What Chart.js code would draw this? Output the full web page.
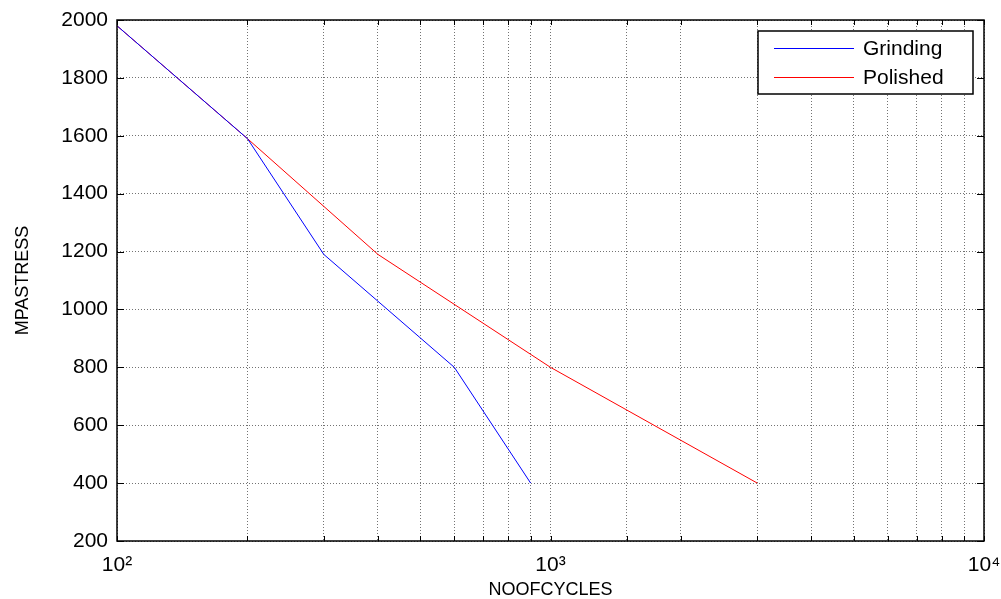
<!DOCTYPE html>
<html>
<head>
<meta charset="utf-8">
<script src="https://cdn.jsdelivr.net/npm/chart.js@4/dist/chart.umd.min.js"></script>
<style>
  html, body { margin: 0; padding: 0; background: #fff; }
  #wrap { width: 1001px; height: 599px; }
</style>
</head>
<body>
<div id="wrap"><canvas id="myChart" width="1001" height="599"></canvas></div>
<script>
// S-N curve, log x axis
const grindingCycles = [100, 200, 300, 600, 900];
const grindingStress = [1980, 1590, 1190, 800, 400];
const polishedCycles = [100, 200, 400, 1000, 3000];
const polishedStress = [1980, 1590, 1190, 800, 400];
const decadeLabels = { 100: '10²', 1000: '10³', 10000: '10⁴' };

const toPoints = (xs, ys) => xs.map((x, i) => ({ x: x, y: ys[i] }));

// box round the plot + inward ticks, matlab style
const framePlugin = {
  id: 'frame',
  afterDraw(chart) {
    const { ctx, chartArea: a, scales } = chart;
    ctx.save();
    ctx.strokeStyle = '#000';
    ctx.lineWidth = 1;
    scales.x.ticks.forEach(t => {
      const px = Math.round(scales.x.getPixelForValue(t.value)) + 0.5;
      ctx.beginPath();
      ctx.moveTo(px, a.bottom); ctx.lineTo(px, a.bottom - 5);
      ctx.moveTo(px, a.top); ctx.lineTo(px, a.top + 5);
      ctx.stroke();
    });
    scales.y.ticks.forEach(t => {
      const py = Math.round(scales.y.getPixelForValue(t.value)) + 0.5;
      ctx.beginPath();
      ctx.moveTo(a.left, py); ctx.lineTo(a.left + 7, py);
      ctx.moveTo(a.right, py); ctx.lineTo(a.right - 7, py);
      ctx.stroke();
    });
    ctx.lineWidth = 1.5;
    ctx.strokeRect(a.left, a.top, a.right - a.left, a.bottom - a.top);
    ctx.restore();
  }
};

// boxed legend in the top right corner
const boxLegend = {
  id: 'boxLegend',
  afterDraw(chart) {
    const { ctx } = chart;
    const x0 = 758, y0 = 31, w = 215, h = 63;
    ctx.save();
    ctx.fillStyle = '#fff';
    ctx.fillRect(x0, y0, w, h);
    ctx.strokeStyle = '#000';
    ctx.lineWidth = 1.5;
    ctx.strokeRect(x0, y0, w, h);
    ctx.font = '21px "Liberation Sans", Arial, sans-serif';
    ctx.textBaseline = 'middle';
    chart.data.datasets.forEach((ds, i) => {
      const y = y0 + 17 + i * 29;
      ctx.strokeStyle = ds.borderColor;
      ctx.lineWidth = 1;
      ctx.beginPath();
      ctx.moveTo(x0 + 16, y + 0.5); ctx.lineTo(x0 + 96, y + 0.5);
      ctx.stroke();
      ctx.fillStyle = '#000';
      ctx.fillText(ds.label, x0 + 105, y + 1);
    });
    ctx.restore();
  }
};

const data = {
  datasets: [
    {
      label: 'Grinding',
      data: toPoints(grindingCycles, grindingStress),
      borderColor: '#0000ff',
      backgroundColor: '#0000ff',
      borderWidth: 1,
      pointRadius: 0
    },
    {
      label: 'Polished',
      data: toPoints(polishedCycles, polishedStress),
      borderColor: '#ff0000',
      backgroundColor: '#ff0000',
      borderWidth: 1,
      pointRadius: 0
    }
  ]
};

const tickFont = { family: '"Liberation Sans", Arial, sans-serif', size: 21 };
const titleFont = { family: '"Liberation Sans", Arial, sans-serif', size: 18, lineHeight: 1 };

const config = {
  type: 'line',
  data: data,
  options: {
    responsive: false,
    animation: false,
    layout: { padding: { left: 0, right: 17, top: 20, bottom: 0 } },
    plugins: {
      legend: { display: false },
      tooltip: { enabled: false }
    },
    scales: {
      x: {
        type: 'logarithmic',
        min: 100,
        max: 10000,
        grid: { color: 'rgba(0,0,0,0.55)', drawTicks: false },
        border: { display: false, dash: [1, 2] },
        ticks: {
          autoSkip: false,
          maxRotation: 0,
          padding: 12,
          color: '#000',
          font: tickFont,
          callback: v => decadeLabels[v] || ''
        },
        title: {
          display: true,
          text: 'NOOFCYCLES',
          color: '#000',
          font: titleFont,
          padding: { top: 0, bottom: 0 }
        },
        afterFit: s => { s.height = 58; s.paddingLeft = 0; s.paddingRight = 0; }
      },
      y: {
        min: 200,
        max: 2000,
        grid: { color: 'rgba(0,0,0,0.55)', drawTicks: false },
        border: { display: false, dash: [1, 2] },
        ticks: {
          stepSize: 200,
          padding: 9,
          color: '#000',
          font: tickFont,
          callback: v => String(v)
        },
        title: {
          display: true,
          text: 'MPASTRESS',
          color: '#000',
          font: titleFont,
          padding: { top: 14, bottom: 0 }
        },
        afterFit: s => { s.width = 117; s.paddingTop = 0; s.paddingBottom = 0; }
      }
    }
  },
  plugins: [framePlugin, boxLegend]
};

var myChart = new Chart(document.getElementById('myChart'), config);
</script>
</body>
</html>
